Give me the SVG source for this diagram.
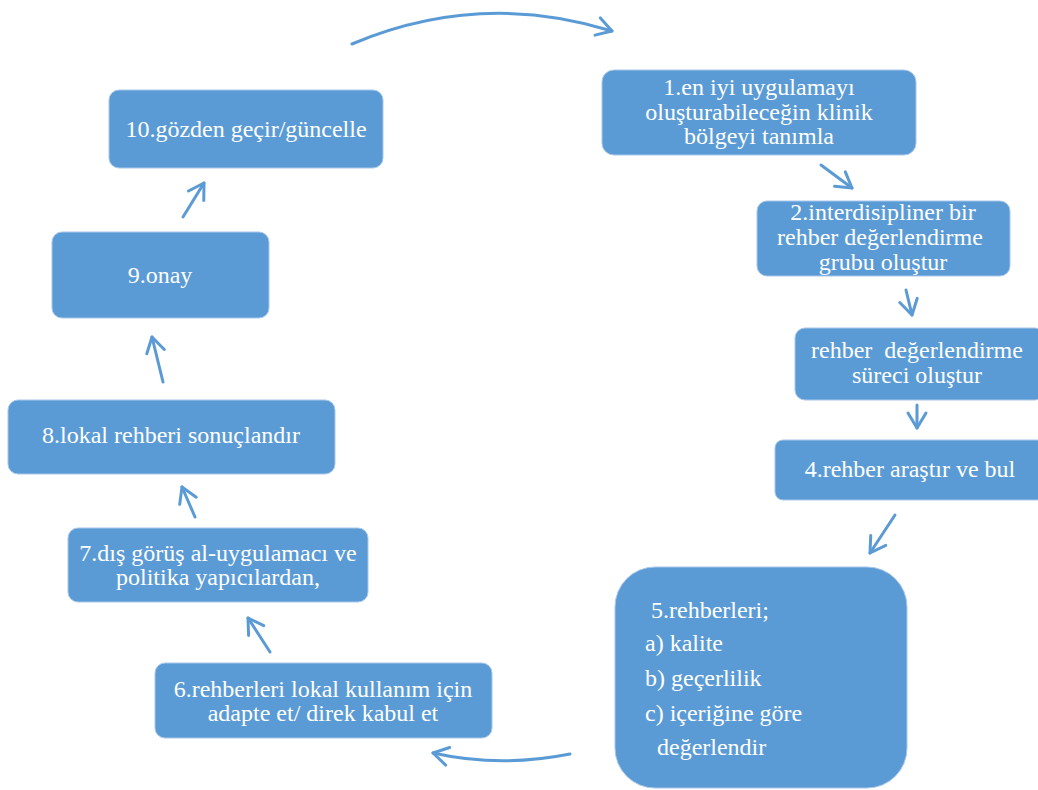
<svg xmlns="http://www.w3.org/2000/svg" width="1038" height="790" viewBox="0 0 1038 790">
<style>
.box{fill:#5B9BD5;stroke:#A7C7EA;stroke-width:1}
.t{font-family:"Liberation Serif","Times New Roman",serif;font-size:24px;fill:#FFFFFF;text-anchor:middle;white-space:pre}
.l{text-anchor:start}
.c{fill:none;stroke:#5B9BD5;stroke-width:3;stroke-linecap:round;stroke-linejoin:round}
</style>
<defs>
<marker id="ah" markerUnits="userSpaceOnUse" markerWidth="30" markerHeight="30" refX="0" refY="0" viewBox="-20 -15 30 30" orient="auto" overflow="visible">
<path d="M-15,-9 L0,0 L-15,9" fill="none" stroke="#5B9BD5" stroke-width="3" stroke-linecap="round" stroke-linejoin="round"/>
</marker>
</defs>
<g id="connectors">
<path class="c" d="M352,44 Q480,-10 612,31" marker-end="url(#ah)"/>
<path class="c" d="M821,165 L852,188" marker-end="url(#ah)"/>
<path class="c" d="M906,290 L912,315" marker-end="url(#ah)"/>
<path class="c" d="M917,405 L917,428" marker-end="url(#ah)"/>
<path class="c" d="M895,515 L870,553" marker-end="url(#ah)"/>
<path class="c" d="M570,754 Q500,768 433,753" marker-end="url(#ah)"/>
<path class="c" d="M270,652 L248,618" marker-end="url(#ah)"/>
<path class="c" d="M195,517 L182,487" marker-end="url(#ah)"/>
<path class="c" d="M163,382 L152,337" marker-end="url(#ah)"/>
<path class="c" d="M183,217 L204,183" marker-end="url(#ah)"/>
</g>
<g id="n1">
<rect class="box" x="602" y="70" width="314" height="85" rx="12"/>
<text class="t" x="759" y="95">1.en iyi uygulamayı</text>
<text class="t" x="759" y="120">oluşturabileceğin klinik</text>
<text class="t" x="759" y="144">bölgeyi tanımla</text>
</g>
<g id="n2">
<rect class="box" x="757" y="201" width="253" height="75" rx="10"/>
<text class="t" x="883" y="220">2.interdisipliner bir</text>
<text class="t" x="883" y="245">rehber değerlendirme </text>
<text class="t" x="883" y="270">grubu oluştur</text>
</g>
<g id="n3">
<rect class="box" x="795" y="328" width="250" height="72" rx="10"/>
<text class="t" x="917" y="358">rehber  değerlendirme</text>
<text class="t" x="917" y="383">süreci oluştur</text>
</g>
<g id="n4">
<rect class="box" x="775" y="440" width="270" height="60" rx="8"/>
<text class="t" x="910" y="477">4.rehber araştır ve bul</text>
</g>
<g id="n5">
<rect class="box" x="615" y="567" width="292" height="221" rx="40"/>
<text class="t l" x="645" y="618"> 5.rehberleri;</text>
<text class="t l" x="645" y="651">a) kalite</text>
<text class="t l" x="645" y="686">b) geçerlilik</text>
<text class="t l" x="645" y="721">c) içeriğine göre</text>
<text class="t l" x="645" y="755">  değerlendir</text>
</g>
<g id="n6">
<rect class="box" x="155" y="663" width="337" height="75" rx="10"/>
<text class="t" x="323" y="697">6.rehberleri lokal kullanım için</text>
<text class="t" x="323" y="721">adapte et/ direk kabul et</text>
</g>
<g id="n7">
<rect class="box" x="68" y="528" width="300" height="74" rx="10"/>
<text class="t" x="218" y="561">7.dış görüş al-uygulamacı ve</text>
<text class="t" x="218" y="585">politika yapıcılardan,</text>
</g>
<g id="n8">
<rect class="box" x="8" y="400" width="327" height="74" rx="10"/>
<text class="t" x="171" y="443">8.lokal rehberi sonuçlandır</text>
</g>
<g id="n9">
<rect class="box" x="52" y="232" width="217" height="86" rx="10"/>
<text class="t" x="160" y="283">9.onay</text>
</g>
<g id="n10">
<rect class="box" x="109" y="90" width="274" height="78" rx="10"/>
<text class="t" x="246" y="137">10.gözden geçir/güncelle</text>
</g>
</svg>
